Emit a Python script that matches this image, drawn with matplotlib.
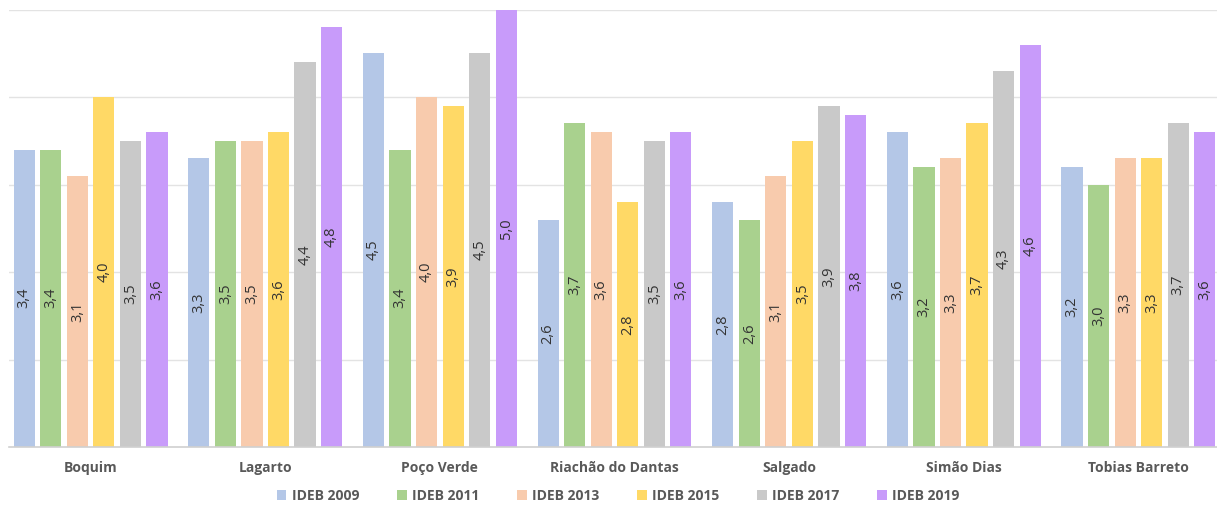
import matplotlib
matplotlib.use("Agg")
import matplotlib.pyplot as plt
import numpy as np

categories = ["Boquim", "Lagarto", "Poço Verde", "Riachão do Dantas", "Salgado", "Simão Dias", "Tobias Barreto"]
series_names = ["IDEB 2009", "IDEB 2011", "IDEB 2013", "IDEB 2015", "IDEB 2017", "IDEB 2019"]
ideb_2009 = [3.4, 3.3, 4.5, 2.6, 2.8, 3.6, 3.2]
ideb_2011 = [3.4, 3.5, 3.4, 3.7, 2.6, 3.2, 3.0]
ideb_2013 = [3.1, 3.5, 4.0, 3.6, 3.1, 3.3, 3.3]
ideb_2015 = [4.0, 3.6, 3.9, 2.8, 3.5, 3.7, 3.3]
ideb_2017 = [3.5, 4.4, 4.5, 3.5, 3.9, 4.3, 3.7]
ideb_2019 = [3.6, 4.8, 5.0, 3.6, 3.8, 4.6, 3.6]
series = [ideb_2009, ideb_2011, ideb_2013, ideb_2015, ideb_2017, ideb_2019]
colors = ["#B4C7E7", "#A9D18E", "#F8CBAD", "#FFD966", "#C9C9C9", "#C89BFA"]

plt.rcParams['font.family'] = ['Open Sans', 'DejaVu Sans']

fig = plt.figure(figsize=(12.17, 5.08), dpi=100)
ax = fig.add_axes([0.007, (508-447)/508, 0.993, (447-9.5)/508])

x = np.arange(len(categories))
pitch = 0.152
width = 0.121
for i, (vals, c, name) in enumerate(zip(series, colors, series_names)):
    pos = x + (i - 2.5) * pitch
    ax.bar(pos, vals, width=width, color=c, label=name, zorder=2)
    for xp, v in zip(pos, vals):
        ax.text(xp, v / 2, f"{v:.1f}".replace(".", ","), rotation=90,
                ha="center", va="center", fontsize=10.5, color="#333333", zorder=3)

ax.set_xlim(-0.47, 6.45)
ax.set_ylim(0, 5)
ax.set_yticks([1, 2, 3, 4, 5])
ax.yaxis.grid(True, color="#E3E3E3", linewidth=1, zorder=0)
ax.tick_params(axis="y", length=0, labelleft=False)
ax.tick_params(axis="x", length=0, pad=10)
ax.set_xticks(x)
ax.set_xticklabels(categories, fontsize=10, fontweight="bold", color="#595959")
for s in ["top", "right", "left"]:
    ax.spines[s].set_visible(False)
ax.spines["bottom"].set_color("#D0D0D0")
ax.spines["bottom"].set_linewidth(1.2)

fig.legend(loc="lower center", bbox_to_anchor=(0.508, -0.015), ncol=6, frameon=False,
           prop={"size": 10, "weight": "bold"}, handlelength=0.7, handleheight=0.7,
           handletextpad=0.4, columnspacing=2.7, labelcolor="#595959")

fig.savefig("out.png", dpi=100)
